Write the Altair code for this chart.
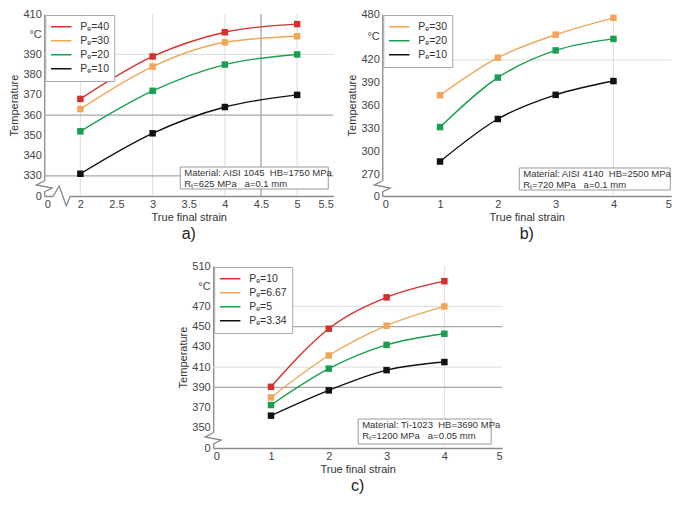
import altair as alt
import pandas as pd

# ---------------- data ----------------
strain_a = [2, 3, 4, 5]
series_a = ["Pₑ=40", "Pₑ=30", "Pₑ=20", "Pₑ=10"]
temp_a_40 = [368, 389, 401, 405]
temp_a_30 = [363, 384, 396, 399]
temp_a_20 = [352, 372, 385, 390]
temp_a_10 = [331, 351, 364, 370]

strain_b = [1, 2, 3, 4]
series_b = ["Pₑ=30", "Pₑ=20", "Pₑ=10"]
temp_b_30 = [374, 423, 453, 475]
temp_b_20 = [332.5, 397, 432.5, 447.5]
temp_b_10 = [287.5, 343, 374.5, 392.5]

strain_c = [1, 2, 3, 4]
series_c = ["Pₑ=10", "Pₑ=6.67", "Pₑ=5", "Pₑ=3.34"]
temp_c_10 = [390.5, 448, 479, 495]
temp_c_667 = [380, 421.5, 451, 470]
temp_c_5 = [372.5, 408.5, 432, 443]
temp_c_334 = [362, 387, 407, 415]

RED, ORANGE, GREEN, BLACK = "#d7302c", "#f2a659", "#1a9e4f", "#111111"
colors_a = [RED, ORANGE, GREEN, BLACK]
colors_b = [ORANGE, GREEN, BLACK]
colors_c = [RED, ORANGE, GREEN, BLACK]

W, H = 289, 182
NB = "\u00a0"


def long_df(strain, series, temps):
    rows = []
    for s, vals in zip(series, temps):
        for x, v in zip(strain, vals):
            rows.append({"strain": x, "temp": v, "series": s})
    return pd.DataFrame(rows)


def panel(df, series, colors, xdom, xvals, ydom, yvals, celsius,
          hlight, hdark, vlight, vdark, note, caption, box, xbreak):
    xspan = (xdom[1] - xdom[0]) / W
    yspan = (ydom[1] - ydom[0]) / H
    X = alt.X("strain:Q",
              scale=alt.Scale(domain=xdom, nice=False, zero=False),
              axis=alt.Axis(values=xvals, title="True final strain",
                            labelExpr=f"datum.value == {xdom[0]} ? '0' : '' + datum.value"))
    Y = alt.Y("temp:Q",
              scale=alt.Scale(domain=ydom, nice=False, zero=False),
              axis=alt.Axis(values=yvals, title="Temperature",
                            labelExpr=(f"datum.value == {ydom[0]} ? '0' : "
                                       f"datum.value == {celsius} ? '°C' : '' + datum.value")))
    layers = []
    if hlight:
        layers.append(alt.Chart(pd.DataFrame({"temp": hlight})).mark_rule(
            color="#dddddd", strokeWidth=1).encode(y=Y))
    if vlight:
        layers.append(alt.Chart(pd.DataFrame({"strain": vlight})).mark_rule(
            color="#dddddd", strokeWidth=1).encode(x=X))
    if hdark:
        layers.append(alt.Chart(pd.DataFrame({"temp": hdark})).mark_rule(
            color="#a8a8a8", strokeWidth=1.3).encode(y=Y))
    if vdark:
        layers.append(alt.Chart(pd.DataFrame({"strain": vdark})).mark_rule(
            color="#a8a8a8", strokeWidth=1.3).encode(x=X))

    # axis breaks (white gap + zigzag), shaped in pixels then mapped into data units
    x0, y0 = xdom[0], ydom[0]
    gap_y = pd.DataFrame({"strain": [x0, x0], "temp": [y0 + 4 * yspan, y0 + 15 * yspan], "i": [0, 1]})
    zig_y = pd.DataFrame({"strain": [x0, x0 - 8 * xspan, x0 + 8 * xspan, x0],
                          "temp": [y0 + 15 * yspan, y0 + 11 * yspan, y0 + 8 * yspan, y0 + 4 * yspan],
                          "i": [0, 1, 2, 3]})
    layers.append(alt.Chart(gap_y).mark_line(color="white", strokeWidth=4, clip=False).encode(
        x=X, y=Y, order="i:Q"))
    layers.append(alt.Chart(zig_y).mark_line(color="#888888", strokeWidth=1.3, clip=False).encode(
        x=X, y=Y, order="i:Q"))
    if xbreak:
        gap_x = pd.DataFrame({"strain": [x0 + 9 * xspan, x0 + 26 * xspan], "temp": [y0, y0], "i": [0, 1]})
        zig_x = pd.DataFrame({"strain": [x0 + 9 * xspan, x0 + 15 * xspan, x0 + 22 * xspan, x0 + 26 * xspan],
                              "temp": [y0, y0 + 10 * yspan, y0 - 10 * yspan, y0],
                              "i": [0, 1, 2, 3]})
        layers.append(alt.Chart(gap_x).mark_line(color="white", strokeWidth=4, clip=False).encode(
            x=X, y=Y, order="i:Q"))
        layers.append(alt.Chart(zig_x).mark_line(color="#888888", strokeWidth=1.3, clip=False).encode(
            x=X, y=Y, order="i:Q"))

    # annotation box
    bx, bx2, by, by2 = box
    one = pd.DataFrame({"k": [0]})
    layers.append(alt.Chart(one).mark_rect(fill="white", stroke="#999999", strokeWidth=1).encode(
        x=alt.value(bx), x2=alt.value(bx2), y=alt.value(by), y2=alt.value(by2)))
    layers.append(alt.Chart(one).mark_text(align="left", baseline="middle", fontSize=9.5,
                                           lineHeight=11, color="#333333").encode(
        x=alt.value(bx + 4), y=alt.value(by + 6), text=alt.value(note)))

    cscale = alt.Scale(domain=series, range=colors)
    layers.append(alt.Chart(df).mark_line(interpolate="monotone", strokeWidth=1.4).encode(
        x=X, y=Y,
        color=alt.Color("series:N", scale=cscale, sort=series,
                        legend=alt.Legend(title=None, orient="top-left"))))
    layers.append(alt.Chart(df).mark_point(shape="square", filled=True, size=42, opacity=1).encode(
        x=X, y=Y,
        fill=alt.Fill("series:N", scale=cscale, sort=series, legend=None)))

    return alt.layer(*layers).properties(
        width=W, height=H,
        title=alt.TitleParams(caption, orient="bottom", anchor="middle"))


df_a = long_df(strain_a, series_a, [temp_a_40, temp_a_30, temp_a_20, temp_a_10])
df_b = long_df(strain_b, series_b, [temp_b_30, temp_b_20, temp_b_10])
df_c = long_df(strain_c, series_c, [temp_c_10, temp_c_667, temp_c_5, temp_c_334])

pa = panel(df_a, series_a, colors_a, [1.5, 5.5], [1.5, 2, 2.5, 3, 3.5, 4, 4.5, 5, 5.5],
           [320, 410], [320, 330, 340, 350, 360, 370, 380, 390, 400, 410], 400,
           [390], [360, 330], [2, 3, 4, 5], [4.5],
           [f"Material: AISI 1045{NB}{NB}HB=1750 MPa", f"Rₜ=625 MPa{NB}{NB}{NB}a=0.1 mm"],
           "a)", (W - 153, W - 5, H - 29, H - 7), True)
pb = panel(df_b, series_b, colors_b, [0, 5], [0, 1, 2, 3, 4, 5],
           [242.5, 480], [242.5, 270, 300, 330, 360, 390, 420, 450, 480], 450,
           [420], [], [4], [],
           [f"Material: AISI 4140{NB}{NB}HB=2500 MPa", f"Rₜ=720 MPa{NB}{NB}{NB}a=0.1 mm"],
           "b)", (W - 152, W - 1, H - 28, H - 6), False)
pc = panel(df_c, series_c, colors_c, [0, 5], [0, 1, 2, 3, 4, 5],
           [330, 510], [330, 350, 370, 390, 410, 430, 450, 470, 490, 510], 490,
           [470, 410], [450, 390], [4], [],
           [f"Material: Ti-1023{NB}{NB}HB=3690 MPa", f"Rₜ=1200 MPa{NB}{NB}{NB}a=0.05 mm"],
           "c)", (W - 144, W - 11, H - 29, H - 4), False)

top = alt.hconcat(pa, pb, spacing=12).resolve_scale(color="independent", fill="independent")
chart = alt.vconcat(top, pc, spacing=18, center=True).resolve_scale(
    color="independent", fill="independent"
).properties(
    padding={"left": 0, "top": 0, "right": 0, "bottom": 0}
).configure(font="Liberation Sans").configure_view(stroke=None).configure_axis(
    grid=False, ticks=False, domainColor="#8a8a8a", domainWidth=1.3,
    labelColor="#444444", labelFontSize=11, labelPadding=3,
    titleFontSize=11, titleFontWeight="normal", titleColor="#333333", titlePadding=3
).configure_axisX(labelPadding=2, titlePadding=2).configure_legend(
    strokeColor="#aaaaaa", fillColor="white", padding=5, offset=1,
    labelFontSize=10.5, labelColor="#333333", symbolType="stroke", symbolSize=420,
    symbolStrokeWidth=1.4, rowPadding=0, labelOffset=8, clipHeight=13.5
).configure_title(fontSize=16, fontWeight="normal", color="#222222", offset=4)

chart.save("out.html", embed_options={"renderer": "svg", "actions": False})
